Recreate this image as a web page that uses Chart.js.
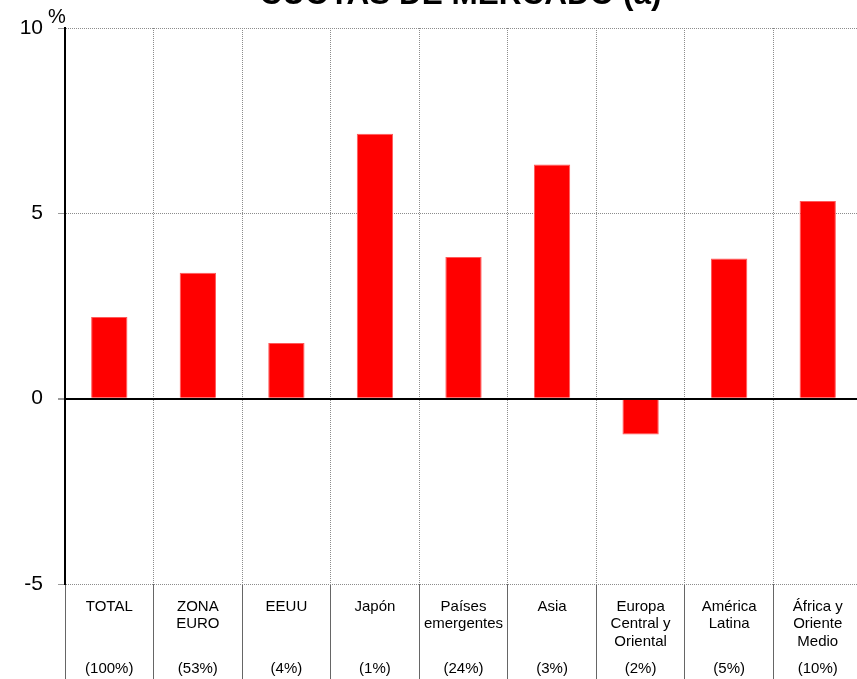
<!DOCTYPE html>
<html>
<head>
<meta charset="utf-8">
<title>Cuotas de mercado</title>
<script src="https://cdn.jsdelivr.net/npm/chart.js@4"></script>
<style>
  html, body { margin: 0; padding: 0; background: #fff; overflow: hidden; }
  #wrap { position: relative; width: 857px; height: 679px; overflow: hidden; }
  /* canvas is shifted up so the title is clipped by the page top */
  #chart { position: absolute; left: 0; top: -40px; }
</style>
</head>
<body>
<div id="wrap"><canvas id="chart" width="880" height="720"></canvas></div>
<script>
// regions and their weight in the total
const REGIONS = [
  ['TOTAL'], ['ZONA', 'EURO'], ['EEUU'], ['Japón'], ['Países', 'emergentes'],
  ['Asia'], ['Europa', 'Central y', 'Oriental'], ['América', 'Latina'], ['África y', 'Oriente', 'Medio']
];
const SHARES = ['(100%)', '(53%)', '(4%)', '(1%)', '(24%)', '(3%)', '(2%)', '(5%)', '(10%)'];
// change in market share, %
const VALUES = [2.2, 3.4, 1.5, 7.15, 3.82, 6.32, -0.97, 3.78, 5.33];

const TITLE = 'CUOTAS DE MERCADO (a)';
const UNIT = '%';
const FONT = '"Liberation Sans", Arial, sans-serif';
const SHIFT = 40; // canvas offset above the page

// title, unit mark and the share row under the category names
const extras = {
  id: 'extras',
  afterDraw(chart) {
    const { ctx, chartArea, scales } = chart;
    ctx.save();
    ctx.fillStyle = '#000';
    ctx.font = `bold 31.5px ${FONT}`;
    ctx.textAlign = 'center';
    ctx.textBaseline = 'alphabetic';
    ctx.fillText(TITLE, (chartArea.left + chartArea.right) / 2 - 3, SHIFT + 4);

    ctx.font = `20px ${FONT}`;
    ctx.textAlign = 'left';
    ctx.fillText(UNIT, 48, chartArea.top - 5);

    ctx.font = `15px ${FONT}`;
    ctx.textAlign = 'center';
    ctx.textBaseline = 'middle';
    SHARES.forEach((s, i) => {
      ctx.fillText(s, scales.x.getPixelForValue(i), chartArea.bottom + 85);
    });
    ctx.restore();
  }
};

new Chart(document.getElementById('chart'), {
  type: 'bar',
  data: {
    labels: REGIONS,
    datasets: [{
      data: VALUES,
      backgroundColor: '#ff0000',
      borderColor: '#ff5a5a',
      borderWidth: 1,
      barPercentage: 0.41,
      categoryPercentage: 1
    }]
  },
  options: {
    responsive: false,
    animation: false,
    devicePixelRatio: 1,
    layout: { padding: { top: 28 + SHIFT, left: 0, right: 18, bottom: 0 } },
    plugins: { legend: { display: false }, tooltip: { enabled: false } },
    scales: {
      x: {
        offset: true,
        afterFit: s => { s.height = 96; },
        grid: {
          offset: true,
          color: '#8c8c8c',
          lineWidth: 1,
          tickLength: 96,
          tickColor: '#666',
          tickWidth: 1
        },
        border: { display: false, dash: [1, 1] },
        ticks: {
          color: '#000',
          padding: -82,
          maxRotation: 0,
          autoSkip: false,
          font: { family: FONT, size: 15, lineHeight: 1.17 }
        }
      },
      y: {
        min: -5,
        max: 10,
        afterFit: s => { s.width = 65; },
        grid: {
          color: c => (c.tick && c.tick.value === 0 ? '#000' : '#8c8c8c'),
          lineWidth: c => (c.tick && c.tick.value === 0 ? 2 : 1),
          tickLength: 7,
          tickColor: '#9a9a9a'
        },
        border: {
          color: '#000',
          width: 2,
          dash: c => (c.tick && c.tick.value === 0 ? [] : [1, 1])
        },
        ticks: {
          stepSize: 5,
          color: '#000',
          padding: 15,
          font: { family: FONT, size: 21 }
        }
      }
    }
  },
  plugins: [extras]
});
</script>
</body>
</html>
